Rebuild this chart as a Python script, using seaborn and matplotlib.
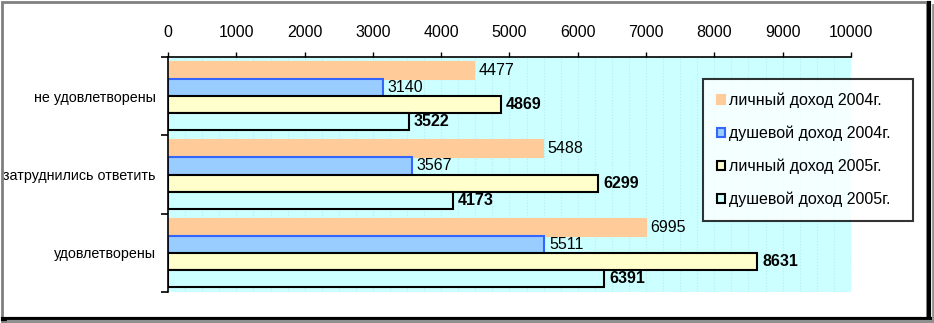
import pandas as pd
import matplotlib
matplotlib.use('Agg')
import matplotlib.pyplot as plt
from matplotlib.patches import Rectangle
from matplotlib.lines import Line2D
import seaborn as sns

categories = ['не удовлетворены', 'затруднились ответить', 'удовлетворены']
series = ['личный доход 2004г.', 'душевой доход 2004г.',
          'личный доход 2005г.', 'душевой доход 2005г.']
personal_2004 = [4477, 5488, 6995]
percap_2004 = [3140, 3567, 5511]
personal_2005 = [4869, 6299, 8631]
percap_2005 = [3522, 4173, 6391]

fills = ['#FFCC99', '#99CCFF', '#FFFFCC', '#CCFFFF']
edges = ['#FFCC99', '#3366FF', '#000000', '#000000']
bold = [False, False, True, True]


def main():
    rows = []
    for name, vals in zip(series, [personal_2004, percap_2004, personal_2005, percap_2005]):
        for cat, v in zip(categories, vals):
            rows.append({'cat': cat, 'series': name, 'value': v})
    df = pd.DataFrame(rows)

    plt.rcParams['font.family'] = ['Liberation Sans', 'DejaVu Sans']
    fig = plt.figure(figsize=(9.34, 3.23), dpi=100)
    ax = fig.add_axes([0.18, 0.096, 0.731, 0.7275])
    ax.set_facecolor('#CCFFFF')

    sns.barplot(data=df, y='cat', x='value', hue='series', hue_order=series,
                order=categories, orient='h', width=0.87, palette=fills,
                saturation=1, ax=ax, legend=False)

    for i, cont in enumerate(ax.containers):
        for bar in cont:
            bar.set_edgecolor(edges[i])
            bar.set_linewidth(1.5)
        ax.bar_label(cont, padding=3.5, fontsize=11.5,
                     fontweight='bold' if bold[i] else 'normal')

    ax.set_xlim(0, 10000)
    ax.set_ylim(2.5, -0.5)
    ax.set_xticks(range(0, 10001, 1000))
    ax.set_xticks(range(0, 10001, 250), minor=True)
    ax.grid(axis='x', which='both', color='#B4ECF2', linestyle=':', linewidth=0.8)
    ax.set_axisbelow(True)
    ax.xaxis.tick_top()
    ax.tick_params(axis='x', which='major', direction='out', length=3.6, width=1,
                   labelsize=11.5, pad=9)
    ax.tick_params(axis='x', which='minor', length=0)

    ax.set_yticks([-0.5, 0.5, 1.5, 2.5])
    ax.set_yticklabels([])
    ax.set_yticks([0, 1, 2], minor=True)
    ax.set_yticklabels(categories, minor=True)
    ax.tick_params(axis='y', which='major', direction='out', length=5, width=1.2)
    ax.tick_params(axis='y', which='minor', length=0, labelsize=10.3, pad=9)
    ax.set_xlabel('')
    ax.set_ylabel('')
    for s in ['right', 'bottom']:
        ax.spines[s].set_visible(False)
    for s in ['top', 'left']:
        ax.spines[s].set_color('black')
        ax.spines[s].set_linewidth(1.2)

    handles = [Rectangle((0, 0), 1, 1, facecolor=fills[i], edgecolor=edges[i], linewidth=1.5)
               for i in range(4)]
    leg = fig.legend(handles, series, loc='upper left',
                     bbox_to_anchor=(0.7527, 0.3282, 0.2248, 0.4272), mode='expand',
                     frameon=True, fancybox=False, edgecolor='black', fontsize=11.5,
                     handlelength=0.5, handleheight=0.5, handletextpad=0.3,
                     labelspacing=1.1, borderpad=0.85, borderaxespad=0)
    leg.get_frame().set_linewidth(1.5)

    # outer frame with shadow
    fig.add_artist(Rectangle((0.002, 0.004), 0.99, 0.99, transform=fig.transFigure,
                             fill=False, edgecolor='#808080', linewidth=2))
    fig.add_artist(Line2D([0.995, 0.995], [0.0, 0.99], transform=fig.transFigure,
                          color='black', linewidth=3))
    fig.add_artist(Line2D([0.003, 0.996], [0.0125, 0.0125], transform=fig.transFigure,
                          color='black', linewidth=3))
    fig.add_artist(Line2D([0.999, 0.999], [0.0, 0.985], transform=fig.transFigure,
                          color='#909090', linewidth=2))
    fig.add_artist(Line2D([0.01, 1.0], [0.003, 0.003], transform=fig.transFigure,
                          color='#909090', linewidth=3))

    fig.savefig('out.png', dpi=100)
    plt.close(fig)


if __name__ == '__main__':
    main()
